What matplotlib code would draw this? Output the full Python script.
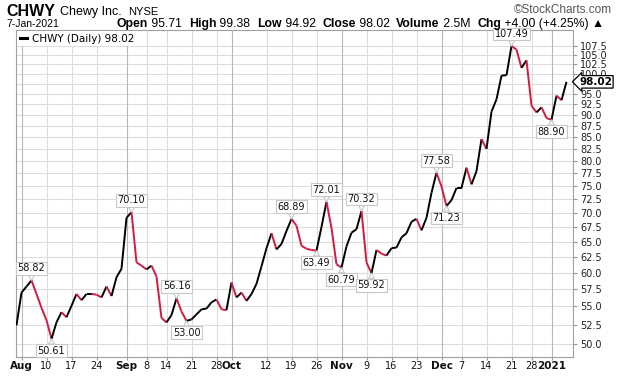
"CHWY daily close, StockCharts style"
import matplotlib
matplotlib.use('Agg')
import matplotlib.pyplot as plt
import numpy as np
import pandas as pd
from matplotlib.collections import LineCollection
from matplotlib.lines import Line2D
from matplotlib.ticker import FixedLocator, FormatStrFormatter, NullLocator

# trading days 31-Jul-2020 .. 7-Jan-2021
holidays = ['2020-09-07', '2020-11-26', '2020-12-25', '2021-01-01']
dates = pd.bdate_range('2020-07-31', '2021-01-07', freq='C', holidays=holidays)

close = [52.4, 57.0, 57.9, 58.82, 56.8, 54.8, 53.1, 50.61, 52.8, 54.2,
         53.5, 55.1, 56.8, 55.9, 56.8, 56.8, 56.7, 56.3, 57.9, 56.5,
         59.3, 60.6, 69.1, 70.10, 61.6, 61.1, 60.5, 61.1, 59.4, 53.4,
         52.8, 53.8, 56.16, 54.3, 53.00, 53.2, 53.9, 54.6, 54.7, 55.6,
         56.0, 54.6, 54.5, 58.5, 56.3, 57.0, 55.8, 56.8, 58.3, 61.0,
         63.9, 66.4, 63.7, 64.6, 66.8, 68.89, 67.7, 64.3, 63.8, 63.6,
         63.49, 67.5, 72.01, 67.3, 61.3, 60.79, 64.2, 66.5, 67.1, 70.32,
         61.6, 59.92, 63.6, 63.0, 62.7, 63.9, 64.0, 65.7, 66.4, 68.4,
         68.9, 66.9, 69.1, 73.7, 77.58, 74.9, 71.23, 72.3, 74.6, 74.6,
         78.6, 75.3, 77.9, 84.6, 82.5, 90.8, 93.7, 99.6, 99.7, 107.49,
         106.5, 101.6, 103.6, 92.2, 90.6, 91.8, 89.3, 88.90, 94.6, 93.5,
         98.02]

tick_dates = ['2020-08-03', '2020-08-10', '2020-08-17', '2020-08-24', '2020-09-01',
              '2020-09-08', '2020-09-14', '2020-09-21', '2020-09-28', '2020-10-01',
              '2020-10-12', '2020-10-19', '2020-10-26', '2020-11-02', '2020-11-09',
              '2020-11-16', '2020-11-23', '2020-12-01', '2020-12-07', '2020-12-14',
              '2020-12-21', '2020-12-28', '2021-01-04']
tick_labels = ['Aug', '10', '17', '24', 'Sep', '8', '14', '21', '28', 'Oct',
               '12', '19', '26', 'Nov', '9', '16', '23', 'Dec', '7', '14',
               '21', '28', '2021']
month_ticks = ['Aug', 'Sep', 'Oct', 'Nov', 'Dec', '2021']

# annotated highs / lows: (date, 'high' or 'low')
marks = [('2020-08-05', 'high'), ('2020-08-11', 'low'), ('2020-09-02', 'high'),
         ('2020-09-16', 'high'), ('2020-09-18', 'low'), ('2020-10-19', 'high'),
         ('2020-10-26', 'low'), ('2020-10-28', 'high'), ('2020-11-02', 'low'),
         ('2020-11-06', 'high'), ('2020-11-10', 'low'), ('2020-11-30', 'high'),
         ('2020-12-02', 'low'), ('2020-12-21', 'high'), ('2021-01-04', 'low')]

yticks = np.arange(50, 108, 2.5)

RED = '#d7193f'

fig = plt.figure(figsize=(6.2, 3.76), dpi=100)
ax = fig.add_axes([16/620, 1 - 357/376, (573 - 16)/620, (357 - 30)/376])

x = np.arange(len(close))
y = np.array(close)
pts = np.column_stack([x, y])
segs = np.stack([pts[:-1], pts[1:]], axis=1)
cols = [RED if y[i+1] < y[i] else 'black' for i in range(len(y) - 1)]
ax.add_collection(LineCollection(segs, colors=cols, linewidths=1.4, zorder=3))

ax.set_yscale('log')
ax.set_ylim(48.3, 112.0)
ax.set_xlim(-0.1, 111.3)

# y axis on the right
ax.yaxis.tick_right()
ax.yaxis.set_major_locator(FixedLocator(yticks))
ax.yaxis.set_major_formatter(FormatStrFormatter('%.1f'))
ax.yaxis.set_minor_locator(NullLocator())
ax.tick_params(axis='y', labelsize=7, length=3, pad=2, colors='#999999', labelcolor='#222222')
for v in yticks:
    ax.axhline(v, color='#dddddd', lw=0.8, zorder=1)

# x axis
pos = [dates.get_loc(pd.Timestamp(d)) for d in tick_dates]
ax.set_xticks(pos)
ax.set_xticklabels(tick_labels)
ax.xaxis.set_minor_locator(NullLocator())
ax.tick_params(axis='x', labelsize=7, length=2, pad=1, colors='#999999', labelcolor='#111111')
for lab in ax.get_xticklabels():
    if lab.get_text() in month_ticks:
        lab.set_fontweight('bold')
        lab.set_fontsize(7.5)
for p, lab in zip(pos, tick_labels):
    ax.axvline(p, color='#b8b8b8' if lab in month_ticks else '#dddddd', lw=0.8, zorder=1)

for s in ax.spines.values():
    s.set_color('#a0a0a0')
    s.set_linewidth(0.8)

# high / low callouts
for d, kind in marks:
    i = dates.get_loc(pd.Timestamp(d))
    dy = 12 if kind == 'high' else -12
    ax.annotate('%.2f' % close[i], xy=(i, close[i]), xytext=(0, dy),
                textcoords='offset pixels', ha='center', va='center',
                fontsize=7, color='#111111', zorder=5,
                bbox=dict(boxstyle='square,pad=0.15', fc='white', ec='#c8c8c8', lw=0.8),
                arrowprops=dict(arrowstyle='wedge,tail_width=0.6,shrink_factor=0.5',
                                fc='white', ec='#c8c8c8', lw=0.8, shrinkA=0, shrinkB=0))

# last value tag
ax.annotate('%.2f' % close[-1], xy=(1.0, close[-1]), xycoords=('axes fraction', 'data'),
            xytext=(6, 0), textcoords='offset pixels', ha='left', va='center',
            fontsize=7.5, fontweight='bold', annotation_clip=False, zorder=6,
            bbox=dict(boxstyle='larrow,pad=0.12', fc='white', ec='black', lw=0.9))

ax.legend([Line2D([0], [0], color='black', lw=2.2)], ['CHWY (Daily) %.2f' % close[-1]],
          loc='upper left', handlelength=0.7, handletextpad=0.5, fontsize=7.5,
          frameon=True, fancybox=False, edgecolor='none', framealpha=1,
          borderaxespad=0.1, borderpad=0.25)

# header
fig.text(6/620, 1 - 12/376, 'CHWY', fontsize=11.5, fontweight='bold',
         family='Liberation Sans', va='center', ha='left')
fig.text(60/620, 1 - 12/376, 'Chewy Inc.', fontsize=9, family='Liberation Sans',
         va='center', ha='left')
fig.text(128/620, 1 - 12/376, 'NYSE', fontsize=8, family='Liberation Sans',
         va='center', ha='left')
fig.text(612/620, 1 - 10/376, '\u00a9StockCharts.com', fontsize=8.5, color='#555555',
         family='Liberation Sans', va='center', ha='right')
fig.text(6/620, 1 - 24/376, '7-Jan-2021', fontsize=7.5, family='Liberation Sans',
         va='center', ha='left')

pieces = [('Open', 'bold'), (' 95.71  ', 'normal'), ('High', 'bold'), (' 99.38  ', 'normal'),
          ('Low', 'bold'), (' 94.92  ', 'normal'), ('Close', 'bold'), (' 98.02  ', 'normal'),
          ('Volume', 'bold'), (' 2.5M  ', 'normal'), ('Chg', 'bold'),
          (' +4.00 (+4.25%) \u25b2', 'normal')]
r = fig.canvas.get_renderer()
objs = []
for txt, w in pieces:
    objs.append(fig.text(0, 1 - 24/376, txt, fontsize=8.8, fontweight=w,
                         family=['Liberation Sans', 'DejaVu Sans'], va='center', ha='left'))
widths = [o.get_window_extent(r).width for o in objs]
xpos = 604 - sum(widths)
for o, w in zip(objs, widths):
    o.set_x(xpos / 620)
    xpos += w

fig.savefig('out.png', dpi=100)
